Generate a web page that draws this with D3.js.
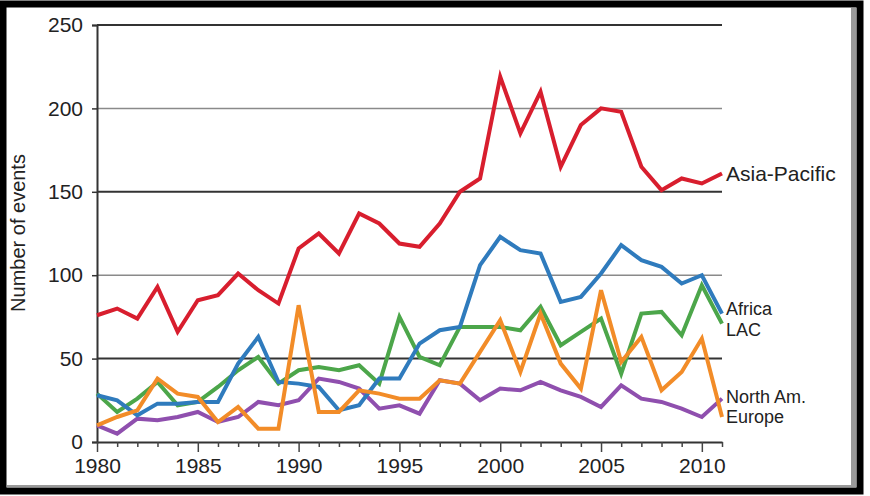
<!DOCTYPE html>
<html>
<head>
<meta charset="utf-8">
<script src="https://cdn.jsdelivr.net/npm/d3@7"></script>
<style>
  html, body { margin: 0; padding: 0; background: #fff; }
  svg { display: block; }
  text { font-family: "Liberation Sans", Arial, sans-serif; fill: #222; }
</style>
</head>
<body>
<svg id="chart" width="870" height="496"></svg>
<script>
// years on the x axis
const years = d3.range(1980, 2012)

// number of events per region
const asiaPacific = [76, 80, 74, 93, 66, 85, 88, 101, 91, 83, 116, 125, 113, 137, 131, 119, 117, 131, 150, 158, 219, 185, 210, 165, 190, 200, 198, 165, 151, 158, 155, 161]
const africa = [28, 25, 16, 23, 23, 24, 24, 47, 63, 36, 35, 33, 19, 22, 38, 38, 59, 67, 69, 106, 123, 115, 113, 84, 87, 101, 118, 109, 105, 95, 100, 77]
const lac = [29, 18, 26, 36, 22, 24, 33, 43, 51, 35, 43, 45, 43, 46, 35, 75, 51, 46, 69, 69, 69, 67, 81, 58, 66, 74, 41, 77, 78, 64, 94, 71]
const northAm = [10, 5, 14, 13, 15, 18, 12, 15, 24, 22, 25, 38, 36, 32, 20, 22, 17, 37, 35, 25, 32, 31, 36, 31, 27, 21, 34, 26, 24, 20, 15, 26]
const europe = [10, 15, 19, 38, 29, 27, 12, 21, 8, 8, 82, 18, 18, 31, 29, 26, 26, 37, 35, 54, 73, 42, 77, 47, 32, 91, 48, 63, 31, 42, 62, 15]

const yTicks = [0, 50, 100, 150, 200, 250]
const xLabelYears = [1980, 1985, 1990, 1995, 2000, 2005, 2010]

// nudge keeps the stacked end labels apart
const series = [
  { name: "North Am.", values: northAm, color: "#8f4fae", nudge: -2 },
  { name: "LAC", values: lac, color: "#4ca64a", nudge: 6 },
  { name: "Africa", values: africa, color: "#2f7bbd", nudge: -5 },
  { name: "Europe", values: europe, color: "#f28c28", nudge: 0 },
  { name: "Asia-Pacific", values: asiaPacific, color: "#d81e2e", nudge: 0 }
]

const svg = d3.select("#chart")

// frame round the picture
svg.append("rect")
  .attr("x", 0).attr("y", 0).attr("width", 870).attr("height", 496)
  .attr("fill", "#fff")
svg.append("rect")
  .attr("x", 3).attr("y", 4).attr("width", 857).attr("height", 487)
  .attr("fill", "#fff")
  .attr("stroke", "#000")
  .attr("stroke-width", 7)
// inner shadow on right and bottom
svg.append("rect")
  .attr("x", 851).attr("y", 8).attr("width", 5).attr("height", 479)
  .attr("fill", "#9a9a9a")
svg.append("rect")
  .attr("x", 7).attr("y", 485).attr("width", 849).attr("height", 2)
  .attr("fill", "#9a9a9a")

const x = d3.scaleLinear().domain([1980, 2011]).range([97, 722])
const y = d3.scaleLinear().domain([0, 250]).range([442, 25])

// gridlines
svg.append("g")
  .selectAll("line")
  .data(yTicks.filter(d => d > 0))
  .enter()
  .append("line")
  .attr("x1", x(1980)).attr("x2", x(2011))
  .attr("y1", d => y(d)).attr("y2", d => y(d))
  .attr("stroke", d => d % 100 === 50 ? "#333" : "#8a8a8a")
  .attr("stroke-width", d => d % 100 === 50 ? 2 : 1.5)

// y axis
const yg = svg.append("g")
  .attr("transform", `translate(${x(1980)}, 0)`)
  .call(d3.axisLeft(y).tickValues(yTicks).tickSize(5).tickPadding(9))
yg.select(".domain").attr("stroke", "#333").attr("stroke-width", 2)
yg.selectAll(".tick line").attr("stroke", "#333").attr("stroke-width", 1.5)
yg.selectAll(".tick text")
  .attr("font-size", "21px")
  .attr("font-family", "Liberation Sans, Arial, sans-serif")
  .attr("fill", "#222")

// x axis, a tick every year, longer ones with labels every 5 years
const xg = svg.append("g")
  .attr("transform", `translate(0, ${y(0)})`)
  .call(d3.axisBottom(x)
    .tickValues(years)
    .tickSize(5)
    .tickSizeOuter(0)
    .tickFormat(d => xLabelYears.includes(d) ? d : ""))
xg.select(".domain").attr("stroke", "#333").attr("stroke-width", 2)
xg.selectAll(".tick line")
  .attr("stroke", "#444")
  .attr("stroke-width", 1.5)
  .attr("y2", d => xLabelYears.includes(d) ? 10 : 5)
xg.selectAll(".tick text")
  .attr("y", 16)
  .attr("font-size", "21px")
  .attr("font-family", "Liberation Sans, Arial, sans-serif")
  .attr("fill", "#222")

// axis title
svg.append("text")
  .attr("transform", `translate(25, 233) rotate(-90)`)
  .attr("text-anchor", "middle")
  .attr("font-size", "20px")
  .text("Number of events")

// lines
const line = d3.line()
  .x((d, i) => x(years[i]))
  .y(d => y(d))

svg.append("g")
  .selectAll("path")
  .data(series)
  .enter()
  .append("path")
  .attr("d", d => line(d.values))
  .attr("fill", "none")
  .attr("stroke", d => d.color)
  .attr("stroke-width", 4)
  .attr("stroke-linejoin", "miter")

// end labels
svg.append("g")
  .selectAll("text")
  .data(series)
  .enter()
  .append("text")
  .attr("x", x(2011) + 4)
  .attr("y", d => y(d.values[d.values.length - 1]) + d.nudge)
  .attr("dy", "0.36em")
  .attr("font-size", d => d.name === "Asia-Pacific" ? "21px" : "18px")
  .text(d => d.name)
</script>
</body>
</html>
